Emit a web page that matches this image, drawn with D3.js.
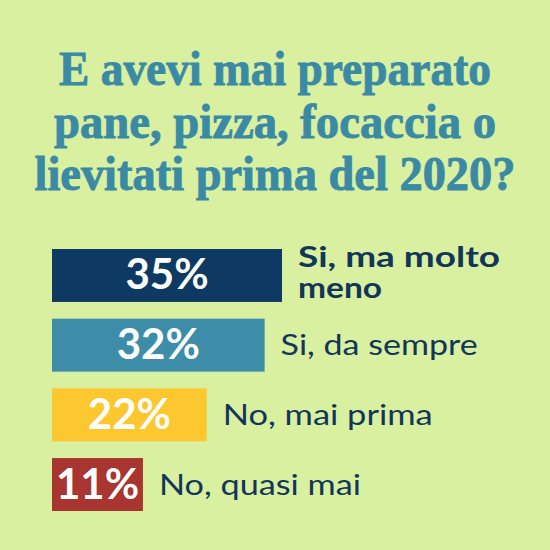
<!DOCTYPE html>
<html>
<head>
<meta charset="utf-8">
<script src="https://cdn.jsdelivr.net/npm/d3@7"></script>
<style>
  html, body { margin: 0; padding: 0; background: #d8f0a0; }
  svg { display: block; }
</style>
</head>
<body>
<div id="chart"></div>
<script>
// --- data ---
const titleLines = ["E avevi mai preparato", "pane, pizza, focaccia o", "lievitati prima del 2020?"];
const answers = ["Si, ma molto meno", "Si, da sempre", "No, mai prima", "No, quasi mai"];
const percents = [35, 32, 22, 11];
const barColors = ["#0e3962", "#3d8da8", "#fdc72f", "#a8352f"];

const W = 550, H = 550;
const textColor = "#12365a";
const sans = "Lato, 'Noto Sans', sans-serif";

const svg = d3.select("#chart").append("svg")
    .attr("width", W)
    .attr("height", H);

svg.append("rect").attr("width", W).attr("height", H).attr("fill", "#d8f0a0");

// title, each line squeezed to the width seen in the picture
const titleWidths = [432, 442, 481];
svg.append("g").selectAll("text")
    .data(titleLines)
    .join("text")
    .attr("x", W / 2)
    .attr("y", (d, i) => 85 + i * 52.5)
    .attr("text-anchor", "middle")
    .attr("font-family", "'Liberation Serif', 'DejaVu Serif', serif")
    .attr("font-weight", "bold")
    .attr("font-size", 49)
    .attr("fill", "#3a8aa6")
    .attr("stroke", "#3a8aa6")
    .attr("stroke-width", 0.9)
    .attr("textLength", (d, i) => titleWidths[i])
    .attr("lengthAdjust", "spacingAndGlyphs")
    .text(d => d);

// bars
const x = d3.scaleLinear().domain([-4.7, 35]).range([0, 230]);
const y = d3.scaleBand().domain(answers).range([249, 511]).paddingInner(0.24).paddingOuter(0);
const left = 52;

const rows = svg.append("g").selectAll("g")
    .data(answers)
    .join("g")
    .attr("transform", d => `translate(${left},${y(d)})`);

rows.append("rect")
    .attr("width", (d, i) => x(percents[i]))
    .attr("height", y.bandwidth())
    .attr("fill", (d, i) => barColors[i]);

rows.append("text")
    .attr("x", (d, i) => x(percents[i]) / 2)
    .attr("y", y.bandwidth() / 2 + 14)
    .attr("text-anchor", "middle")
    .attr("font-family", sans)
    .attr("font-weight", "bold")
    .attr("font-size", 42)
    .attr("fill", "#fff")
    .text((d, i) => percents[i] + "%");

// answer labels; the first one is bold and wraps on two lines
const labelLines = [["Si, ma molto", "meno"], ["Si, da sempre"], ["No, mai prima"], ["No, quasi mai"]];
const labelWidths = [[202, 84], [197], [210], [202]];

rows.each(function(d, i) {
    const lx = x(percents[i]) + 16;
    const lines = labelLines[i];
    const y0 = lines.length > 1 ? 18 : y.bandwidth() / 2 + 10;
    d3.select(this).selectAll("text.label")
        .data(lines)
        .join("text")
        .attr("class", "label")
        .attr("x", lx)
        .attr("y", (s, j) => y0 + j * 31)
        .attr("font-family", sans)
        .attr("font-size", 28)
        .attr("font-weight", i === 0 ? "bold" : "normal")
        .attr("fill", textColor)
        .attr("textLength", (s, j) => labelWidths[i][j])
        .attr("lengthAdjust", "spacingAndGlyphs")
        .text(s => s);
});
</script>
</body>
</html>
